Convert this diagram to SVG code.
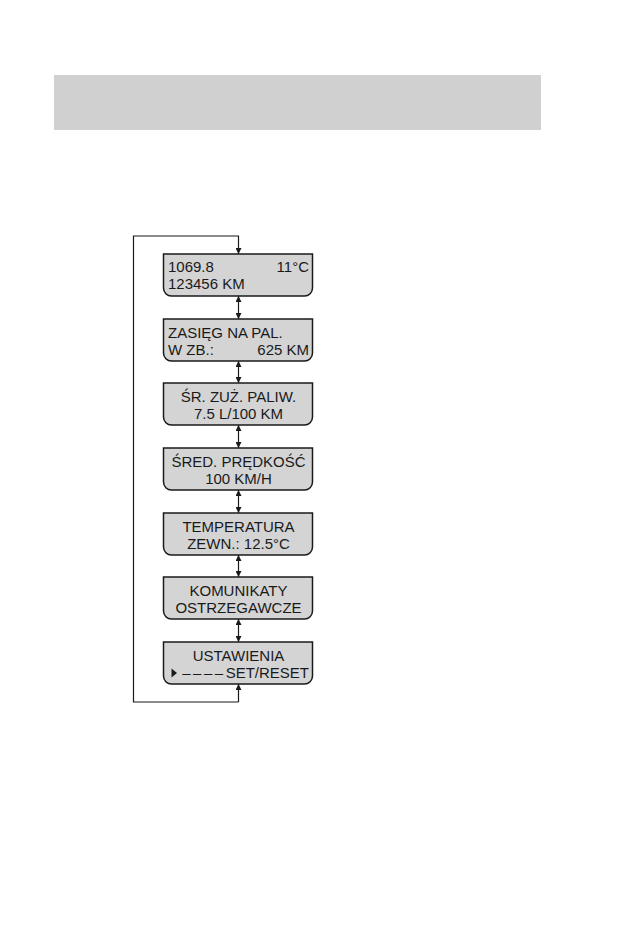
<svg xmlns="http://www.w3.org/2000/svg" width="638" height="935" viewBox="0 0 638 935">
<defs>
<style>
.box{fill:#d4d4d4;stroke:#1a1a1a;stroke-width:1.5}
.t{font-family:"Liberation Sans",Arial,sans-serif;font-size:15px;fill:#1a1a1a}
.c{text-anchor:middle}
.r{text-anchor:end}
.ln{fill:none;stroke:#1a1a1a;stroke-width:1.2}
</style>
<marker id="ah" viewBox="0 0 10 10" refX="10" refY="5" markerWidth="6" markerHeight="6" markerUnits="userSpaceOnUse" orient="auto-start-reverse">
<path d="M0,0 L10,5 L0,10 z" fill="#1a1a1a"/>
</marker>
</defs>
<rect x="54" y="75" width="487" height="55" fill="#d0d0d0"/>
<g id="connectors">
<path class="ln" d="M238.5,702 H133.5 V236 H238.5 V254" marker-end="url(#ah)"/>
<path class="ln" d="M238.5,702 V684" marker-end="url(#ah)"/>
<line class="ln" x1="238.5" y1="296" x2="238.5" y2="319" marker-start="url(#ah)" marker-end="url(#ah)"/>
<line class="ln" x1="238.5" y1="361" x2="238.5" y2="383" marker-start="url(#ah)" marker-end="url(#ah)"/>
<line class="ln" x1="238.5" y1="425" x2="238.5" y2="448" marker-start="url(#ah)" marker-end="url(#ah)"/>
<line class="ln" x1="238.5" y1="490" x2="238.5" y2="513" marker-start="url(#ah)" marker-end="url(#ah)"/>
<line class="ln" x1="238.5" y1="555" x2="238.5" y2="577" marker-start="url(#ah)" marker-end="url(#ah)"/>
<line class="ln" x1="238.5" y1="619" x2="238.5" y2="642" marker-start="url(#ah)" marker-end="url(#ah)"/>
</g>
<g id="n1">
<path class="box" d="M163.5,254 H312.5 V288 A8,8 0 0 1 304.5,296 H171.5 A8,8 0 0 1 163.5,288 Z"/>
<text class="t" x="168" y="272">1069.8</text>
<text class="t r" x="309" y="272">11°C</text>
<text class="t" x="168" y="289">123456 KM</text>
</g>
<g id="n2">
<path class="box" d="M163.5,319 H312.5 V353 A8,8 0 0 1 304.5,361 H171.5 A8,8 0 0 1 163.5,353 Z"/>
<text class="t" x="168" y="338">ZASIĘG NA PAL.</text>
<text class="t" x="168" y="355">W ZB.:</text>
<text class="t r" x="309" y="355">625 KM</text>
</g>
<g id="n3">
<path class="box" d="M163.5,383 H312.5 V417 A8,8 0 0 1 304.5,425 H171.5 A8,8 0 0 1 163.5,417 Z"/>
<text class="t c" x="238.5" y="402">ŚR. ZUŻ. PALIW.</text>
<text class="t c" x="238.5" y="419">7.5 L/100 KM</text>
</g>
<g id="n4">
<path class="box" d="M163.5,448 H312.5 V482 A8,8 0 0 1 304.5,490 H171.5 A8,8 0 0 1 163.5,482 Z"/>
<text class="t c" x="238.5" y="467">ŚRED. PRĘDKOŚĆ</text>
<text class="t c" x="238.5" y="484">100 KM/H</text>
</g>
<g id="n5">
<path class="box" d="M163.5,513 H312.5 V547 A8,8 0 0 1 304.5,555 H171.5 A8,8 0 0 1 163.5,547 Z"/>
<text class="t c" x="238.5" y="532">TEMPERATURA</text>
<text class="t c" x="238.5" y="549">ZEWN.: 12.5°C</text>
</g>
<g id="n6">
<path class="box" d="M163.5,577 H312.5 V611 A8,8 0 0 1 304.5,619 H171.5 A8,8 0 0 1 163.5,611 Z"/>
<text class="t c" x="238.5" y="596">KOMUNIKATY</text>
<text class="t c" x="238.5" y="613">OSTRZEGAWCZE</text>
</g>
<g id="n7">
<path class="box" d="M163.5,642 H312.5 V676 A8,8 0 0 1 304.5,684 H171.5 A8,8 0 0 1 163.5,676 Z"/>
<text class="t c" x="238.5" y="661">USTAWIENIA</text>
<polygon points="171.5,668.5 177,673 171.5,677.5" fill="#1a1a1a"/>
<text class="t r" x="309" y="678"><tspan style="letter-spacing:2.5px">––––</tspan>SET/RESET</text>
</g>
</svg>
